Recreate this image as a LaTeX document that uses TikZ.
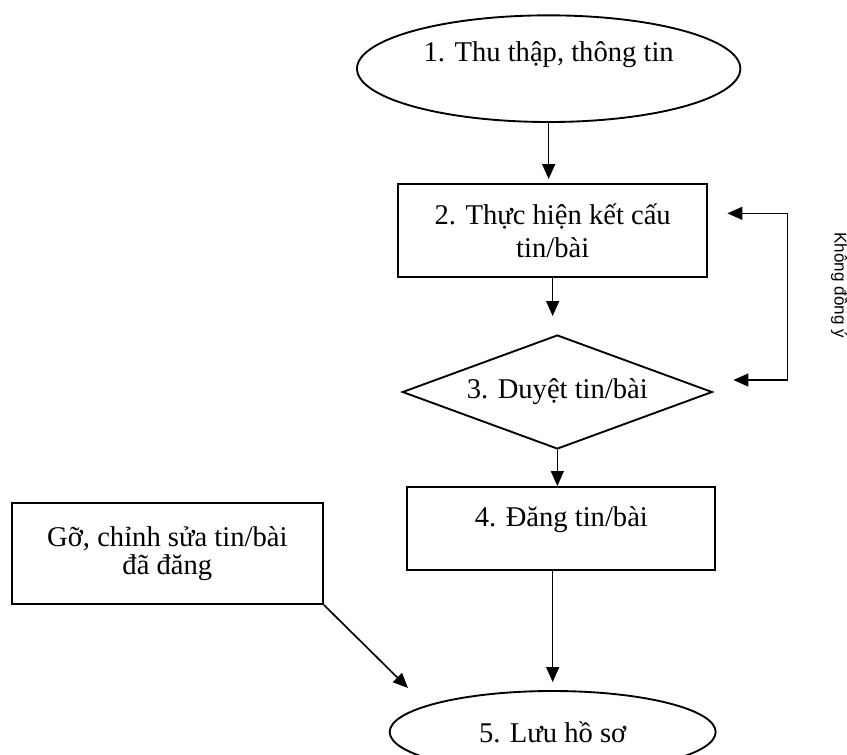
\documentclass[tikz,border=0pt]{standalone}
\usepackage{fontspec}
\setmainfont{Liberation Serif}
\newfontfamily\lblfont{Liberation Sans}
\usetikzlibrary{arrows.meta,shapes.geometric}

\begin{document}
\begin{tikzpicture}[
  blk/.style={draw,line width=0.8pt,inner sep=0pt,align=center,font=\fontsize{12.2}{14}\selectfont},
  ell/.style={ellipse,draw,line width=0.8pt,inner sep=0pt,font=\fontsize{12.2}{14}\selectfont},
  dia/.style={diamond,draw,line width=0.8pt,inner sep=0pt,aspect=2.7,font=\fontsize{12.2}{14}\selectfont},
  lab/.style={font=\lblfont\fontsize{7.3}{9}\selectfont,inner sep=0pt},
  ar/.style={-{Triangle[length=6.4pt,width=5.5pt]},line width=0.7pt}]
\useasboundingbox (0,0) rectangle (12.705,-11.31);
% ---- main steps
\node[ell,minimum width=5.75cm,minimum height=1.6cm,text height=9pt,text depth=14.8pt] (thu) at (8.23,-1.03) {1. Thu thập, thông tin};
\node[blk,minimum width=4.64cm,minimum height=1.4cm] (ket) at (8.29,-3.46) {2. Thực hiện kết cấu\\ tin/bài};
\node[dia,minimum width=4.65cm,minimum height=1.71cm] (duyet) at (8.36,-5.88) {3. Duyệt tin/bài};
\node[blk,minimum width=4.62cm,minimum height=1.25cm,text height=9pt,text depth=11pt] (dang) at (8.42,-7.93) {4. Đăng tin/bài};
\node[ell,minimum width=4.89cm,minimum height=1.23cm] (luu) at (8.29,-10.98) {5. Lưu hồ sơ};
% ---- side box
\node[blk,minimum width=4.67cm,minimum height=1.52cm,font=\fontsize{12.2}{12}\selectfont] (go) at (2.51,-8.30) {Gỡ, chỉnh sửa tin/bài\\ đã đăng};
% ---- flow
\draw[ar,shorten >=1.7pt] (thu.south) -- (thu.south |- ket.north);
\draw[ar,shorten >=7.7pt] (ket.south) -- (ket.south |- duyet.north);
\draw[ar] (duyet.south) -- (duyet.south |- dang.north);
\draw[ar,shorten >=3.4pt] (luu.north |- dang.south) -- (luu.north);
% ---- feedback (not approved)
\coordinate (fbA) at (10.91,-3.20);
\coordinate (fbB) at (11.00,-5.70);
\draw[{Triangle[length=6.4pt,width=5.5pt]}-{Triangle[length=6.4pt,width=5.5pt]},line width=0.7pt] (fbA) -- ++(0.9,0) |- (fbB);
\node[lab,rotate=-90] (kdy) at (12.59,-4.28) {Không đồng ý};
% ---- correction
\coordinate (goEnd) at (6.12,-10.32);
\draw[ar] (go.south east) -- (goEnd);
\end{tikzpicture}
\end{document}
